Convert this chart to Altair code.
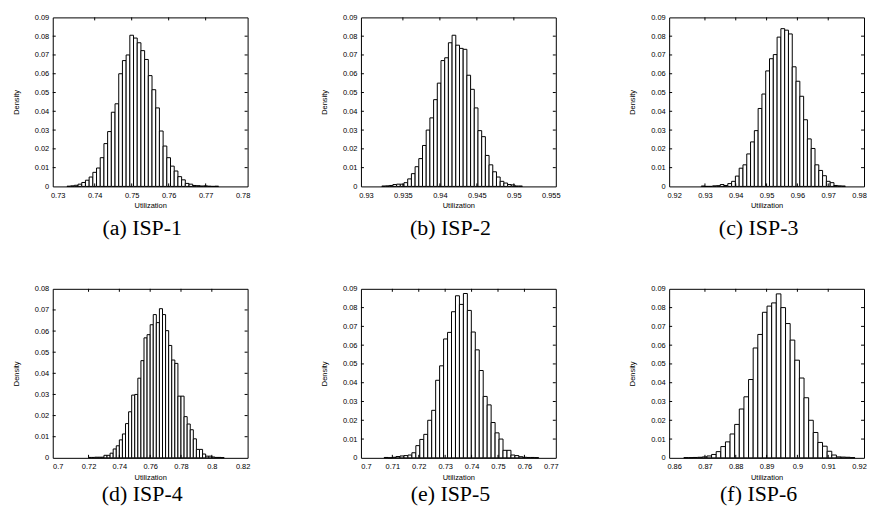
import altair as alt
import pandas as pd

# ---------------- data ----------------
captions = ["(a) ISP-1", "(b) ISP-2", "(c) ISP-3", "(d) ISP-4", "(e) ISP-5", "(f) ISP-6"]

isp1_start, isp1_width = 0.7325, 0.001
isp1_density = [0.0001, 0.0003, 0.0006, 0.0012, 0.0021, 0.0033, 0.0050, 0.0075, 0.0098, 0.0153,
                0.0228, 0.0292, 0.0395, 0.0440, 0.0600, 0.0670, 0.0700, 0.0805, 0.0790, 0.0765,
                0.0723, 0.0676, 0.0590, 0.0515, 0.0418, 0.0295, 0.0215, 0.0153, 0.0108, 0.0082,
                0.0052, 0.0035, 0.0016, 0.0012, 0.0005, 0.0004, 0.0002, 0.0003, 0.0001, 0.0000,
                0.0001]
isp1_xticks = [0.73, 0.74, 0.75, 0.76, 0.77, 0.78]

isp2_start, isp2_width = 0.93215, 0.0005
isp2_density = [0.0002, 0.0003, 0.0005, 0.0010, 0.0012, 0.0012, 0.0020, 0.0040, 0.0068, 0.0105,
                0.0148, 0.0218, 0.0300, 0.0365, 0.0462, 0.0550, 0.0670, 0.0685, 0.0765, 0.0805,
                0.0752, 0.0735, 0.0730, 0.0592, 0.0517, 0.0418, 0.0297, 0.0265, 0.0165, 0.0115,
                0.0078, 0.0050, 0.0027, 0.0018, 0.0010, 0.0008, 0.0002, 0.0002]
isp2_xticks = [0.93, 0.935, 0.94, 0.945, 0.95, 0.955]

isp3_start, isp3_width = 0.92881, 0.00123
isp3_density = [0.0002, 0.0000, 0.0000, 0.0003, 0.0004, 0.0010, 0.0005, 0.0015, 0.0027, 0.0055,
                0.0097, 0.0115, 0.0173, 0.0237, 0.0297, 0.0415, 0.0492, 0.0615, 0.0680, 0.0702,
                0.0795, 0.0840, 0.0832, 0.0812, 0.0637, 0.0560, 0.0480, 0.0355, 0.0253, 0.0202,
                0.0115, 0.0085, 0.0057, 0.0027, 0.0020, 0.0005, 0.0003, 0.0002]
isp3_xticks = [0.92, 0.93, 0.94, 0.95, 0.96, 0.97, 0.98]

isp4_start, isp4_width = 0.720, 0.002
isp4_density = [0.0002, 0.0002, 0.0003, 0.0003, 0.0003, 0.0012, 0.0012, 0.0022, 0.0042, 0.0057,
                0.0085, 0.0113, 0.0162, 0.0218, 0.0297, 0.0300, 0.0377, 0.0460, 0.0568, 0.0583,
                0.0630, 0.0678, 0.0640, 0.0706, 0.0678, 0.0602, 0.0532, 0.0463, 0.0447, 0.0292,
                0.0292, 0.0195, 0.0160, 0.0133, 0.0090, 0.0040, 0.0040, 0.0018, 0.0008, 0.0008,
                0.0004, 0.0002, 0.0002, 0.0001]
isp4_xticks = [0.70, 0.72, 0.74, 0.76, 0.78, 0.80, 0.82]

isp5_start, isp5_width = 0.7069, 0.0015
isp5_density = [0.0002, 0.0000, 0.0003, 0.0007, 0.0010, 0.0012, 0.0015, 0.0027, 0.0065, 0.0098,
                0.0125, 0.0200, 0.0253, 0.0413, 0.0490, 0.0633, 0.0668, 0.0778, 0.0863, 0.0817,
                0.0875, 0.0785, 0.0670, 0.0575, 0.0465, 0.0327, 0.0282, 0.0188, 0.0133, 0.0100,
                0.0040, 0.0040, 0.0015, 0.0012, 0.0006, 0.0003, 0.0002, 0.0002, 0.0001]
isp5_xticks = [0.70, 0.71, 0.72, 0.73, 0.74, 0.75, 0.76, 0.77]

isp6_start, isp6_width = 0.86315, 0.0015
isp6_density = [0.0001, 0.0001, 0.0002, 0.0003, 0.0005, 0.0010, 0.0018, 0.0033, 0.0060, 0.0085,
                0.0127, 0.0178, 0.0260, 0.0325, 0.0417, 0.0585, 0.0657, 0.0775, 0.0808, 0.0825,
                0.0873, 0.0800, 0.0715, 0.0627, 0.0520, 0.0425, 0.0320, 0.0200, 0.0135, 0.0082,
                0.0062, 0.0035, 0.0015, 0.0005, 0.0004, 0.0003, 0.0001]
isp6_xticks = [0.86, 0.87, 0.88, 0.89, 0.90, 0.91, 0.92]

y_max = [0.09, 0.09, 0.09, 0.08, 0.09, 0.09]
y_step = 0.01

# ---------------- chart ----------------
W, H = 196, 170
TICK = 3
LABEL_FONT = "Liberation Sans"


def panel(caption, start, width, dens, xticks, ymax, cap_offset):
    df = pd.DataFrame({"lo": [start + i * width for i in range(len(dens))], "density": dens})
    df["hi"] = df["lo"] + width
    df["base"] = 0.0
    yticks = [round(i * y_step, 2) for i in range(int(round(ymax / y_step)) + 1)]
    xscale = alt.Scale(domain=[xticks[0], xticks[-1]], nice=False, zero=False)
    yscale = alt.Scale(domain=[0, ymax], nice=False, zero=True)
    xaxis = alt.Axis(values=xticks, format=".3~f", title="Utilization",
                     labelPadding=5, titlePadding=3, labelFlush=False, labelOverlap=False)
    yaxis = alt.Axis(values=yticks, format=".2~f", title="Density",
                     labelPadding=4, titlePadding=14, labelOverlap=False)

    bars = alt.Chart(df).mark_bar(fill="white", stroke="black", strokeWidth=1,
                                  orient="vertical").encode(
        x=alt.X("lo:Q", scale=xscale, axis=xaxis),
        x2="hi:Q",
        y=alt.Y("density:Q", scale=yscale, axis=yaxis),
        y2="base:Q",
    )
    xt = pd.DataFrame({"v": xticks[1:-1]})
    yt = pd.DataFrame({"v": yticks[1:-1]})
    xb = alt.Chart(xt).mark_rule(color="black").encode(
        x=alt.X("v:Q", scale=xscale, axis=xaxis), y=alt.value(H - TICK), y2=alt.value(H))
    xtop = alt.Chart(xt).mark_rule(color="black").encode(
        x=alt.X("v:Q", scale=xscale, axis=xaxis), y=alt.value(0), y2=alt.value(TICK))
    yl = alt.Chart(yt).mark_rule(color="black").encode(
        y=alt.Y("v:Q", scale=yscale, axis=yaxis), x=alt.value(0), x2=alt.value(TICK))
    yr = alt.Chart(yt).mark_rule(color="black").encode(
        y=alt.Y("v:Q", scale=yscale, axis=yaxis), x=alt.value(W - TICK), x2=alt.value(W))
    return alt.layer(bars, xb, xtop, yl, yr).properties(
        width=W, height=H,
        title=alt.TitleParams(caption, orient="bottom", font="Liberation Serif", fontSize=22,
                              fontWeight="normal", color="black", frame="group",
                              anchor="middle", dx=-8, offset=cap_offset),
    )


panels = [
    panel(captions[0], isp1_start, isp1_width, isp1_density, isp1_xticks, y_max[0], 9),
    panel(captions[1], isp2_start, isp2_width, isp2_density, isp2_xticks, y_max[1], 9),
    panel(captions[2], isp3_start, isp3_width, isp3_density, isp3_xticks, y_max[2], 9),
    panel(captions[3], isp4_start, isp4_width, isp4_density, isp4_xticks, y_max[3], 3),
    panel(captions[4], isp5_start, isp5_width, isp5_density, isp5_xticks, y_max[4], 3),
    panel(captions[5], isp6_start, isp6_width, isp6_density, isp6_xticks, y_max[5], 3),
]

row1 = alt.hconcat(*panels[:3], spacing=114, bounds="flush")
row2 = alt.hconcat(*panels[3:], spacing=114, bounds="flush")

chart = alt.vconcat(row1, row2, spacing=44).properties(
    padding={"left": 3, "top": 3, "right": 0, "bottom": 0},
    background="white",
).configure_view(
    stroke="black", strokeWidth=1
).configure_axis(
    labelFont=LABEL_FONT, labelFontSize=7.5, labelColor="black",
    titleFont=LABEL_FONT, titleFontSize=7.5, titleFontWeight="normal", titleColor="black",
    ticks=False, domain=False, grid=False,
)

chart.save("out.html", embed_options={"renderer": "svg", "actions": False})
